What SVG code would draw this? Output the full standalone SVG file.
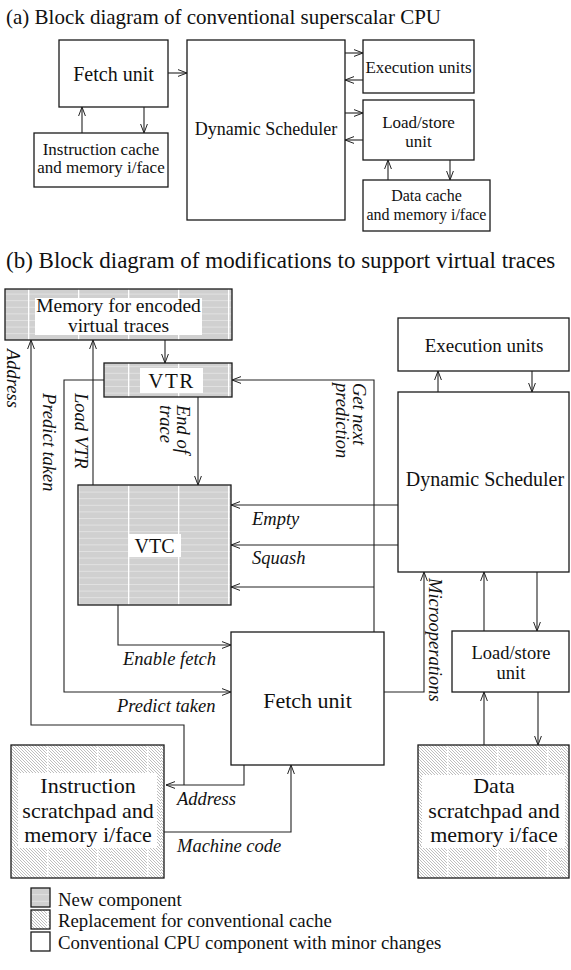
<svg xmlns="http://www.w3.org/2000/svg" width="571" height="970" viewBox="0 0 571 970">
<style>
.box{fill:#fff;stroke:#1a1a1a;stroke-width:1.3}
.t{font-family:"Liberation Serif","Times New Roman",serif;fill:#111}
.m{text-anchor:middle}
.i{font-style:italic;font-size:18.5px}
.c{stroke:#222;stroke-width:1.1;fill:none}
.a{marker-end:url(#ah)}
.bg{fill:#fff}
</style>
<defs>
<marker id="ah" markerWidth="10" markerHeight="8" refX="9" refY="4" orient="auto" markerUnits="userSpaceOnUse"><path d="M0,0.6 L9,4 L0,7.4" fill="none" stroke="#222" stroke-width="1"/></marker>
<pattern id="newp" patternUnits="userSpaceOnUse" width="50" height="6.6" x="78" y="485"><rect width="50" height="6.6" fill="#d0d0d0"/><rect width="50" height="0.8" fill="#e6e6e6"/><rect width="1.3" height="6.6" fill="#fff"/></pattern>
<pattern id="diag" patternUnits="userSpaceOnUse" width="3" height="3"><rect width="3" height="3" fill="#fff"/><path d="M0,0 L3,3 M-1,2 L1,4 M2,-1 L4,1" stroke="#a2a2a2" stroke-width="0.7"/></pattern>
<pattern id="repl" patternUnits="userSpaceOnUse" width="50" height="100" x="11" y="745"><rect width="50" height="100" fill="url(#diag)"/><rect x="36" width="1.4" height="100" fill="#fff"/></pattern>
</defs>

<text class="t" x="6" y="24" font-size="21">(a) Block diagram of conventional superscalar CPU</text>
<text class="t" x="6" y="268" font-size="23">(b) Block diagram of modifications to support virtual traces</text>

<g id="a-fetch"><rect class="box" x="59" y="40" width="109" height="67"/><text class="t m" x="113.5" y="81" font-size="20">Fetch unit</text></g>
<g id="a-icache"><rect class="box" x="34" y="133" width="134" height="54"/><text class="t m" x="101" y="155" font-size="17">Instruction cache</text><text class="t m" x="101" y="173" font-size="17">and memory i/face</text></g>
<g id="a-sched"><rect class="box" x="187" y="40" width="158" height="180"/><text class="t m" x="266" y="135" font-size="18">Dynamic Scheduler</text></g>
<g id="a-exec"><rect class="box" x="363" y="40" width="111" height="53"/><text class="t m" x="418.5" y="73" font-size="17">Execution units</text></g>
<g id="a-ls"><rect class="box" x="363" y="100" width="111" height="60"/><text class="t m" x="418.5" y="128" font-size="17">Load/store</text><text class="t m" x="418.5" y="147" font-size="17">unit</text></g>
<g id="a-dcache"><rect class="box" x="363" y="180" width="127" height="51"/><text class="t m" x="426.5" y="201" font-size="16">Data cache</text><text class="t m" x="426.5" y="220" font-size="16">and memory i/face</text></g>

<g id="b-mem"><rect class="box" x="5" y="289" width="227" height="51" style="fill:url(#newp)"/><rect class="bg" x="35" y="298" width="167" height="37"/><text class="t m" x="118.5" y="312" font-size="19.5">Memory for encoded</text><text class="t m" x="118.5" y="332" font-size="19.5">virtual traces</text></g>
<g id="b-vtr"><rect class="box" x="104" y="363" width="128" height="34" style="fill:url(#newp)"/><rect class="bg" x="140" y="368" width="63" height="25"/><text class="t m" x="171.5" y="388" font-size="21" letter-spacing="1.5">VTR</text></g>
<g id="b-vtc"><rect class="box" x="78" y="485" width="153" height="120" style="fill:url(#newp)"/><rect class="bg" x="128" y="534" width="53" height="23"/><text class="t m" x="154.5" y="553" font-size="20">VTC</text></g>
<g id="b-exec"><rect class="box" x="398" y="318" width="171" height="53"/><text class="t m" x="484" y="352" font-size="19">Execution units</text></g>
<g id="b-sched"><rect class="box" x="398" y="392" width="171" height="180"/><text class="t m" x="485" y="486" font-size="20">Dynamic Scheduler</text></g>
<g id="b-fetch"><rect class="box" x="231" y="632" width="153" height="133"/><text class="t m" x="307.5" y="708" font-size="22">Fetch unit</text></g>
<g id="b-ls"><rect class="box" x="452" y="631" width="117" height="61"/><text class="t m" x="511" y="659" font-size="18.5">Load/store</text><text class="t m" x="511" y="679" font-size="18.5">unit</text></g>
<g id="b-iscr"><rect class="box" x="11" y="745" width="153" height="133" style="fill:url(#repl)"/><rect class="bg" x="18" y="773" width="139" height="75"/><text class="t m" x="88" y="793" font-size="22">Instruction</text><text class="t m" x="88" y="818" font-size="22">scratchpad and</text><text class="t m" x="88" y="842" font-size="22">memory i/face</text></g>
<g id="b-dscr"><rect class="box" x="418" y="745" width="151" height="133" style="fill:url(#repl)"/><rect class="bg" x="422" y="775" width="143" height="73"/><text class="t m" x="494" y="793" font-size="22">Data</text><text class="t m" x="494" y="818" font-size="22">scratchpad and</text><text class="t m" x="494" y="842" font-size="22">memory i/face</text></g>

<g id="legend">
<rect class="box" x="31" y="888" width="19" height="19" style="fill:url(#newp)"/><text class="t" x="58" y="906" font-size="18.8">New component</text>
<rect class="box" x="31" y="910" width="19" height="19" style="fill:url(#repl)"/><text class="t" x="58" y="927" font-size="18.8">Replacement for conventional cache</text>
<rect class="box" x="31" y="932" width="19" height="19"/><text class="t" x="58" y="949" font-size="18.8">Conventional CPU component with minor changes</text>
</g>

<g id="connectors">
<path class="c a" d="M168,73 H187"/>
<path class="c a" d="M345,53 H363"/>
<path class="c a" d="M363,80 H345"/>
<path class="c a" d="M345,113 H363"/>
<path class="c a" d="M363,140 H345"/>
<path class="c a" d="M82,133 V107"/>
<path class="c a" d="M144,107 V133"/>
<path class="c a" d="M388,180 V160"/>
<path class="c a" d="M450,160 V180"/>

<path class="c a" d="M165,340 V363"/>
<path class="c a" d="M184,785 V725 H31 V340"/>
<path class="c a" d="M93,485 V340"/>
<path class="c a" d="M104,380 H64 V692 H231"/>
<path class="c a" d="M198,397 V485"/>
<path class="c a" d="M374,632 V380 H232"/>
<path class="c a" d="M398,505 H231"/>
<path class="c a" d="M398,545 H231"/>
<path class="c a" d="M374,587 H231"/>
<path class="c a" d="M118,605 V645 H231"/>
<path class="c a" d="M438,392 V371"/>
<path class="c a" d="M532,371 V392"/>
<path class="c a" d="M384,692 H424 V572"/>
<path class="c a" d="M484,631 V572"/>
<path class="c a" d="M537,572 V631"/>
<path class="c a" d="M484,745 V692"/>
<path class="c a" d="M538,692 V745"/>
<path class="c a" d="M244,765 V785 H166"/>
<path class="c a" d="M164,832 H291 V765"/>

<text class="t i" transform="translate(7,349) rotate(90)">Address</text>
<text class="t i" transform="translate(43,393) rotate(90)">Predict taken</text>
<text class="t i" transform="translate(75,393) rotate(90)">Load VTR</text>
<text class="t i" transform="translate(177,405) rotate(90)">End of</text>
<text class="t i" transform="translate(160,405) rotate(90)">trace</text>
<text class="t i" transform="translate(353,383) rotate(90)">Get next</text>
<text class="t i" transform="translate(336,383) rotate(90)">prediction</text>
<text class="t i" transform="translate(429,578) rotate(90)">Microoperations</text>
<text class="t i" x="252" y="525">Empty</text>
<text class="t i" x="252" y="564">Squash</text>
<text class="t i" x="123" y="665">Enable fetch</text>
<text class="t i" x="117" y="712">Predict taken</text>
<text class="t i" x="177" y="805">Address</text>
<text class="t i" x="177" y="852">Machine code</text>
</g>
</svg>
